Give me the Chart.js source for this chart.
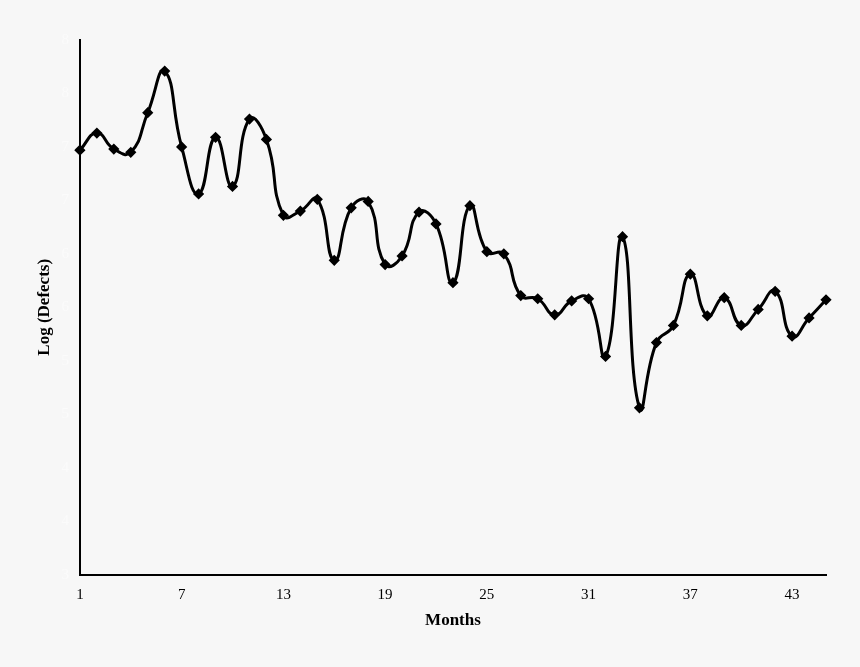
<!DOCTYPE html>
<html><head><script src="https://cdn.jsdelivr.net/npm/chart.js@4"></script>
<style>html,body{margin:0;background:#f7f7f7}#w{width:860px;height:667px}</style></head>
<body><div id="w"><canvas id="c"></canvas></div>
<script>
const months = Array.from({length:45},(_,i)=>String(i+1));
const logDefects = [6.97,7.13,6.98,6.95,7.32,7.71,7.00,6.56,7.09,6.63,7.26,7.07,6.36,6.40,6.51,5.94,6.43,6.49,5.90,5.98,6.39,6.28,5.73,6.45,6.02,6.00,5.61,5.58,5.43,5.56,5.58,5.04,6.16,4.56,5.17,5.33,5.81,5.42,5.59,5.33,5.48,5.65,5.23,5.40,5.57];
const yTicks = [3,3.5,4,4.5,5,5.5,6,6.5,7,7.5,8];
new Chart(document.getElementById('c'),{
type:'line',
data:{labels:months,datasets:[{data:logDefects,borderColor:'#000',backgroundColor:'#000',borderWidth:3,tension:0.5,pointStyle:'rectRot',pointRadius:3.5,pointHoverRadius:3.5}]},
options:{responsive:true,maintainAspectRatio:false,animation:false,
layout:{padding:{left:30,right:34,top:40,bottom:32}},
plugins:{legend:{display:false},tooltip:{enabled:false}},
scales:{
x:{offset:false,grid:{display:false,drawTicks:true},border:{color:'#000',width:2},
ticks:{autoSkip:false,maxRotation:0,color:'#000',font:{family:'Liberation Serif',size:15},
callback:(v,i)=>(i%6===0?months[i]:'')},
title:{display:true,text:'Months',color:'#000',font:{family:'Liberation Serif',size:17,weight:'bold'}}},
y:{min:3,max:8,afterBuildTicks:a=>{a.ticks=yTicks.map(v=>({value:v}));},
grid:{display:false},border:{color:'#000',width:2},
ticks:{color:'#fbfbfb',font:{family:'Liberation Serif',size:15},callback:v=>Math.round(v+0.001).toString()},
title:{display:true,text:'Log (Defects)',color:'#000',font:{family:'Liberation Serif',size:17,weight:'bold'}}}
}}
});
</script></body></html>
